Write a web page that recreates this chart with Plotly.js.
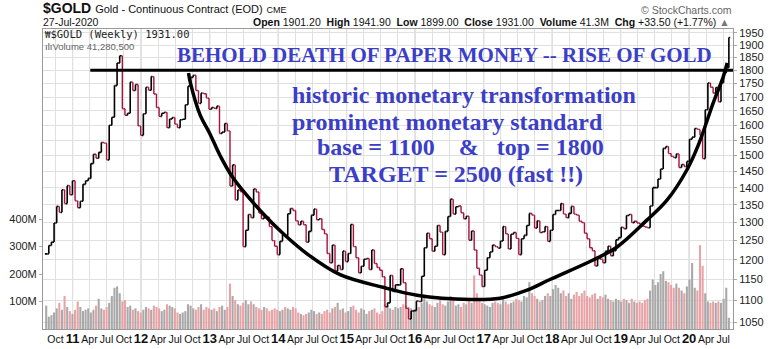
<!DOCTYPE html>
<html><head><meta charset="utf-8">
<script src="https://cdn.plot.ly/plotly-3.0.1.min.js"></script>
<style>html,body{margin:0;padding:0;background:#fff}#chart{width:778px;height:349px}</style>
</head><body><div id="chart"></div>
<script>
// ---- DATA (bi-weekly closes) ----
const firstWeek = '2010-08-13';          // first bi-weekly bar
const close2010 = [1215,1237,1246,1298,1345,1328,1394,1353,1406,1379,1421];
const close2011 = [1361,1341,1360,1410,1421,1428,1474,1504,1491,1510,1542,1540,1486,1600,1628,1742,1828,1857,1658,1635,1642,1755,1724,1746,1598,1566];
const close2012 = [1640,1736,1725,1776,1711,1662,1631,1642,1645,1592,1622,1627,1604,1592,1619,1621,1672,1740,1773,1781,1724,1677,1714,1712,1696,1656];
const close2013 = [1662,1659,1667,1572,1577,1606,1581,1405,1470,1364,1393,1388,1234,1278,1322,1313,1396,1387,1326,1310,1316,1314,1288,1250,1235,1213];
const close2014 = [1248,1265,1263,1324,1339,1333,1304,1293,1303,1293,1246,1275,1320,1337,1307,1310,1280,1268,1216,1192,1238,1171,1185,1175,1222,1195];
const close2015 = [1216,1294,1234,1205,1167,1183,1201,1203,1175,1225,1190,1180,1173,1157,1085,1094,1160,1121,1137,1137,1177,1142,1081,1057,1075,1076];
const close2016 = [1098,1097,1158,1231,1270,1255,1222,1235,1291,1273,1213,1275,1316,1366,1323,1344,1346,1327,1310,1317,1251,1276,1225,1178,1161,1133];
const close2017 = [1173,1205,1220,1238,1234,1230,1249,1288,1268,1228,1267,1272,1256,1213,1255,1264,1291,1325,1320,1284,1304,1272,1274,1288,1248,1278];
const close2018 = [1322,1333,1333,1353,1323,1313,1325,1345,1323,1320,1303,1299,1270,1255,1231,1223,1184,1206,1201,1192,1222,1235,1210,1223,1252,1258];
const close2019 = [1286,1282,1319,1322,1299,1303,1298,1295,1289,1287,1285,1346,1400,1400,1426,1457,1523,1529,1506,1497,1493,1505,1462,1471,1465,1481];
const close2020 = [1553,1560,1589,1586,1566,1490,1654,1752,1736,1714,1735,1683,1753,1790,1810,1931];

// volume in millions
const vol2010 = [85,45,50,60,75,95,70,120,80,65,55];
const vol2011 = [70,100,80,65,70,75,60,70,85,110,75,70,80,95,120,150,155,130,100,105,80,85,70,75,65,60];
const vol2012 = [70,80,75,70,85,80,75,65,70,90,85,80,75,60,55,60,65,90,85,75,70,80,90,70,80,75];
const vol2013 = [70,75,65,80,85,70,80,165,120,105,90,85,95,105,90,100,90,80,75,70,80,75,65,70,75,70];
const vol2014 = [65,70,80,75,70,80,75,60,55,50,55,60,70,65,55,60,55,65,70,60,75,80,95,70,75,60];
const vol2015 = [65,80,85,70,60,75,70,55,65,70,75,60,55,65,90,85,75,70,80,75,80,90,85,80,75,70];
const vol2016 = [75,80,95,120,100,90,85,80,95,115,90,85,100,120,105,85,90,80,95,90,110,95,195,130,110,95];
const vol2017 = [90,85,80,95,100,95,90,110,100,90,95,100,110,105,100,120,115,170,130,120,110,100,105,120,130,120];
const vol2018 = [145,160,150,130,140,120,130,110,125,135,120,130,140,120,115,125,130,110,120,115,125,110,105,100,110,105];
const vol2019 = [100,110,105,95,110,100,95,100,95,105,110,140,180,160,170,200,210,175,170,160,150,165,150,140,130,155];
const vol2020 = [180,240,150,140,305,230,130,100,95,100,95,100,95,110,150,41];

// drawn annotations: rounded base arc and 1800 resistance
const arcDates  = ['2012-09-10','2012-09-20','2012-11-10','2013-01-03','2013-02-25','2013-05-05','2013-10-13','2014-01-27','2014-06-04','2014-11-27','2015-07-14','2016-01-11','2016-10-21','2017-03-29','2017-08-20','2017-12-20','2018-08-07','2018-12-13','2019-05-21','2019-09-05','2019-12-20','2020-02-20','2020-05-08','2020-07-01','2020-07-22'];
const arcPrices = [1790,1752,1637,1570,1500,1430,1324,1269,1215,1162,1131,1112,1102,1105,1124,1150,1199,1233,1306,1363,1454,1535,1678,1775,1829];
const resistanceDates = ['2011-04-05','2020-08-22'];
const resistanceLevel = [1800,1800];

const priceTicks = [1050,1100,1150,1200,1250,1300,1350,1400,1450,1500,1550,1600,1650,1700,1750,1800,1850,1900,1950];
const volTicks = [100e6,200e6,300e6,400e6];
const volTickLabels = ['100M','200M','300M','400M'];
const monthNames = {3:'Apr',6:'Jul',9:'Oct'};

// ---- BUILD ----
const closes = [].concat(close2010,close2011,close2012,close2013,close2014,close2015,close2016,close2017,close2018,close2019,close2020);
const vols = [].concat(vol2010,vol2011,vol2012,vol2013,vol2014,vol2015,vol2016,vol2017,vol2018,vol2019,vol2020).map(v=>v*1e6);
const t0 = Date.parse(firstWeek+'T00:00:00Z');
const dates = closes.map((_,i)=>new Date(t0+i*14*864e5).toISOString().slice(0,10));
const opens = closes.map((c,i)=> i===0 ? c : closes[i-1]);
const highs = closes.map((c,i)=>Math.max(c,opens[i]));
const lows  = closes.map((c,i)=>Math.min(c,opens[i]));
const volColors = closes.map((c,i)=> c>=opens[i] ? '#a9a9a9' : '#e7a3a6');

const tickvals=[], ticktext=[];
for(let y=2010;y<=2020;y++){
  for(const m of [0,3,6,9]){
    const d = `${y}-${String(m+1).padStart(2,'0')}-01`;
    if(d<'2010-09-01'||d>'2020-07-15') continue;
    tickvals.push(d);
    ticktext.push(m===0 ? `<span style="font-size:13px"><b>${String(y).slice(2)}</b></span>` : monthNames[m]);
  }
}
const shapes=[];
for(let y=2011;y<=2020;y++){
  shapes.push({type:'line',xref:'x',yref:'paper',x0:`${y}-01-01`,x1:`${y}-01-01`,y0:0,y1:1,line:{color:'#bdbdbd',width:1},layer:'below'});
}

const traces = [
  {type:'bar',x:dates,y:vols,marker:{color:volColors,line:{width:0}},xaxis:'x',yaxis:'y',hoverinfo:'skip'},
  {type:'ohlc',x:dates,open:opens,high:highs,low:lows,close:closes,xaxis:'x',yaxis:'y2',tickwidth:0.5,
   increasing:{line:{color:'#000000',width:1.6}},decreasing:{line:{color:'#a8123c',width:1.4}},hoverinfo:'skip'},
  {type:'scatter',mode:'lines',x:resistanceDates,y:resistanceLevel,xaxis:'x',yaxis:'y2',line:{color:'#000',width:3},hoverinfo:'skip'},
  {type:'scatter',mode:'lines',x:arcDates,y:arcPrices,xaxis:'x',yaxis:'y2',line:{color:'#000',width:3.5,shape:'spline',smoothing:1},hoverinfo:'skip'}
];

const L=43,T=29,W=690,H=300;
function ann(px,py,text,opt){
  return Object.assign({xref:'paper',yref:'paper',x:(px-L)/W,y:(T+H-py)/H,text:text,showarrow:false,xanchor:'left',yanchor:'middle',borderpad:0},opt||{});
}
const blue='#3b3ec6';
const serif='Liberation Serif, Times New Roman, serif';
const annotations=[
  ann(42,8,'<b>$GOLD</b> <span style="font-size:11px">Gold - Continuous Contract (EOD)</span> <span style="font-size:9px">CME</span>',{font:{family:'Liberation Sans, Arial',size:14,color:'#111'}}),
  ann(42,22,'27-Jul-2020',{font:{family:'Liberation Sans, Arial',size:10.5,color:'#111'}}),
  ann(731,22,'<b>Open</b> 1901.20  <b>High</b> 1941.90  <b>Low</b> 1899.00  <b>Close</b> 1931.00  <b>Volume</b> 41.3M  <b>Chg</b> +33.50 (+1.77%) <span style="color:#777">▲</span>',{xanchor:'right',font:{family:'Liberation Sans, Arial',size:10.5,color:'#111'}}),
  ann(733,10,'© StockCharts.com',{xanchor:'right',font:{family:'Liberation Sans, Arial',size:10.5,color:'#666'}}),
  ann(44,34.5,'<span style="font-size:9px">₩</span>$GOLD (Weekly) 1931.00',{font:{family:'DejaVu Sans Mono, monospace',size:10.5,color:'#222'}}),
  ann(44,46.5,'<span style="color:#555">ılı</span>Volume 41,280,500',{font:{family:'Liberation Sans, Arial',size:9.5,color:'#666'}}),
  ann(176,55.2,'<b>BEHOLD DEATH OF PAPER MONEY -- RISE OF GOLD</b>',{font:{family:serif,size:21,color:blue}}),
  ann(291,95.2,'<b>historic monetary transformation</b>',{font:{family:serif,size:24,color:blue}}),
  ann(291,121.9,'<b>prominent monetary standard</b>',{font:{family:serif,size:24,color:blue}}),
  ann(316,146.9,'<b>base = 1100\u00a0\u00a0\u00a0\u00a0&amp;\u00a0\u00a0\u00a0top = 1800</b>',{font:{family:serif,size:24,color:blue}}),
  ann(328,173.6,'<b>TARGET = 2500 (fast !!)</b>',{font:{family:serif,size:24,color:blue}})
];

const layout={
  width:778,height:349,margin:{l:L,r:45,t:T,b:20,pad:0},
  paper_bgcolor:'#fff',plot_bgcolor:'#fff',showlegend:false,
  font:{family:'Liberation Sans, Arial, sans-serif',size:11,color:'#222'},
  bargap:0.2,
  xaxis:{type:'date',range:['2010-07-27','2020-08-22'],tickmode:'array',tickvals:tickvals,ticktext:ticktext,tickangle:0,
    showgrid:true,gridcolor:'#e0e0e0',ticks:'',tickfont:{size:10.5,color:'#111'},showline:true,linecolor:'#9a9a9a',mirror:true,
    rangeslider:{visible:false},fixedrange:true,zeroline:false},
  yaxis:{range:[0,300/27.5*1e8],tickmode:'array',tickvals:volTicks,ticktext:volTickLabels,showgrid:false,zeroline:false,
    ticks:'outside',ticklen:3,tickcolor:'#aaa',showline:true,linecolor:'#9a9a9a',tickfont:{size:11,color:'#222'},fixedrange:true},
  yaxis2:{type:'log',overlaying:'y',side:'right',range:[Math.log10(1034.4),Math.log10(1966.5)],tickmode:'array',
    tickvals:priceTicks,ticktext:priceTicks.map(String),showgrid:true,gridcolor:'#e0e0e0',zeroline:false,
    ticks:'outside',ticklen:3,tickcolor:'#aaa',showline:true,linecolor:'#9a9a9a',tickfont:{size:11,color:'#222'},fixedrange:true},
  shapes:shapes,
  annotations:annotations
};
Plotly.newPlot('chart',traces,layout,{displayModeBar:false,staticPlot:true});
</script></body></html>
